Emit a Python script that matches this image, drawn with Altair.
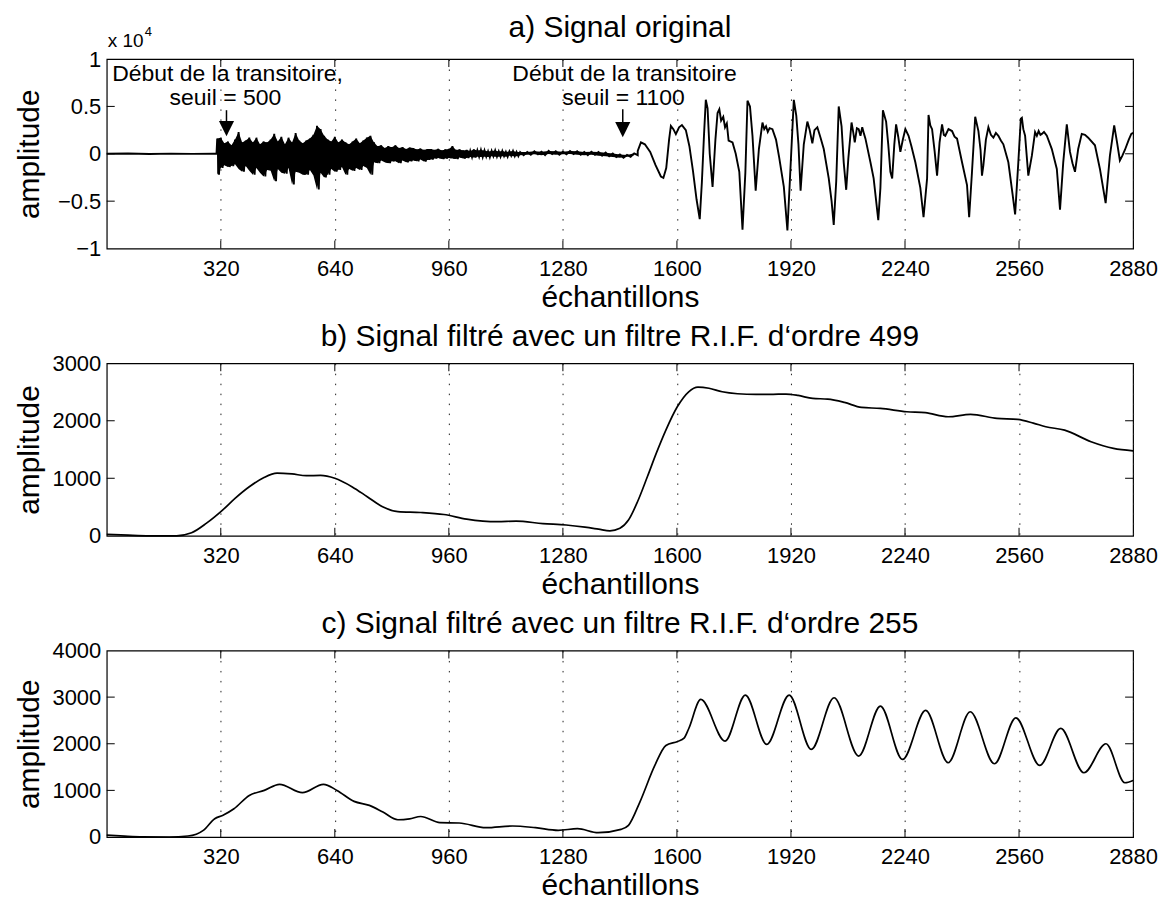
import altair as alt
import pandas as pd

FONT = "Liberation Sans"
W = 1029
H_A, H_B, H_C = 190, 173, 187
TICK_LEN = 8

X_TICKS = [320, 640, 960, 1280, 1600, 1920, 2240, 2560, 2880]
A_TICKS = [-10000, -5000, 0, 5000, 10000]
B_TICKS = [0, 1000, 2000, 3000]
C_TICKS = [0, 1000, 2000, 3000, 4000]

TITLE_A = "a) Signal original"
TITLE_B = "b) Signal filtré avec un filtre R.I.F. d‘ordre 499"
TITLE_C = "c) Signal filtré avec un filtre R.I.F. d‘ordre 255"
X_LABEL = "échantillons"
Y_LABEL = "amplitude"

# ---------------- panel a : original signal (raw amplitude) ----------------
SILENCE_S = [0, 60, 120, 180, 240, 300, 308]
SILENCE_V = [0, 30, -20, 20, -10, 10, 0]

# noisy burst: upper / lower excursion of each 10-sample pair
BURST_START, BURST_STEP = 310, 10
BURST_UP = [1600, 1700, 1100, 1300, 900, 1500, 2300, 1200, 1400, 1700,
            1200, 1700, 1000, 1300, 1200, 1500, 2100, 1300, 1800, 1000,
            1700, 1200, 2200, 1400, 1100, 1400, 1600, 2000, 2960, 2600,
            1900, 1500, 1300, 1800, 1200, 1500, 1200, 1000, 1300, 1600,
            1100, 1400, 1700, 1900, 1200, 800, 900, 600, 800, 700,
            900, 600, 700, 500, 650, 600, 450, 550, 400, 500,
            500, 400, 520, 350, 450, 500, 800, 400, 450, 350,
            400, 300, 450, 350, 400, 350, 250, 300, 350, 250,
            300, 200, 250, 300, 200]
BURST_LO = [-2200, -1500, -1200, -1400, -1300, -1100, -1600, -1900, -1300, -1800,
            -2200, -1500, -2000, -2400, -1700, -1800, -2900, -1600, -2000, -2100,
            -1500, -3250, -1900, -2000, -2200, -2200, -1700, -2300, -3770, -2000,
            -2500, -2200, -1600, -1900, -1700, -1400, -2200, -1600, -1800, -1500,
            -1700, -1300, -1500, -2200, -900, -1000, -700, -900, -1000, -800,
            -800, -1000, -700, -900, -800, -700, -800, -600, -820, -650,
            -600, -500, -450, -550, -500, -450, -500, -550, -400, -500,
            -450, -350, -400, -300, -350, -300, -350, -250, -300, -300,
            -250, -300, -200, -250, -250]

QUIET_START, QUIET_STEP = 1160, 20
QUIET_UP = [180, 200, 260, 220, 300, 260, 220, 300, 260, 200, 220, 180, 120, 20, -80, -120, 50]
QUIET_LO = [-150, -100, -60, -150, -20, -100, -60, -20, -100, -150, -100, -200, -250, -350, -420, -320, -150]

VOICED_S = [
    1490, 1499, 1510, 1525, 1540, 1555, 1562, 1570, 1578, 1583, 1590, 1597, 1606, 1614,
    1625, 1635, 1645, 1655, 1664, 1670, 1676, 1681, 1686, 1692, 1700, 1708, 1714, 1719,
    1724, 1730, 1735, 1740, 1745, 1756, 1765, 1775, 1784, 1792, 1798, 1805, 1812, 1821,
    1830, 1840, 1845, 1850, 1855, 1860, 1868, 1878, 1887, 1900, 1910, 1918, 1928, 1935,
    1941, 1947, 1956, 1966, 1972, 1980, 1986, 1994, 2003, 2012, 2026, 2034, 2040, 2047,
    2054, 2062, 2068, 2075, 2081, 2090, 2095, 2099, 2105, 2110, 2115, 2120, 2125, 2129,
    2143, 2152, 2165, 2171, 2178, 2187, 2193, 2199, 2204, 2210, 2215, 2221, 2227, 2234,
    2241, 2250, 2258, 2269, 2283, 2292, 2302, 2306, 2311, 2316, 2323, 2330, 2337, 2344,
    2349, 2353, 2362, 2372, 2379, 2386, 2400, 2414, 2420, 2428, 2437, 2446, 2452, 2456,
    2460, 2467, 2474, 2481, 2488, 2495, 2502, 2509, 2516, 2530, 2542, 2549, 2558, 2565,
    2568, 2572, 2577, 2586, 2596, 2605, 2610, 2615, 2620, 2624, 2630, 2638, 2652, 2666,
    2675, 2684, 2694, 2703, 2710, 2717, 2726, 2736, 2745, 2754, 2773, 2787, 2803, 2815,
    2827, 2835, 2843, 2850, 2857, 2868, 2875, 2880,
]
VOICED_V = [
    300, 1200, 1000, 200, -1200, -2400, -2550, -1500, 1500, 2950, 2600, 2080, 2800, 3030,
    2500, 800, -1800, -4800, -6900, -3000, 2000, 5700, 4800, 0, -3500, 1500, 4300, 4700,
    3500, 3900, 2800, 3200, 1400, 1200, 0, -1900, -8000, -2000, 5600, 5000, 1900, -3900,
    500, 3300, 2600, 2900, 2300, 2700, 2600, 1500, -400, -3500, -8100, -2000, 5700, 4000,
    1000, -3900, 1000, 3400, 2600, 1100, 2500, 2800, 1700, 500, -2600, -5000, -7500, -2900,
    5000, 2900, -900, -3800, -500, 3300, 2200, 1200, 2700, 2600, 1900, 2800, 2100, 1600,
    -900, -2600, -7000, -3600, 4600, 3400, 1000, -1900, -2600, 1000, 3100, 1800, 200, 1500,
    2600, 1900, 800, -900, -3600, -6700, -2600, 4100, 3000, 2600, 300, -2300, 1200, 3100,
    2000, 1900, 2600, 2400, 1800, 1600, -900, -3300, -6700, -1900, 3900, 2400, 400, -2300,
    -1200, 1500, 2800, 2000, 1700, 2200, 1900, 1400, 1000, -900, -4300, -6400, -900, 3700,
    3800, 2600, 1900, -2300, -200, 2300, 1900, 2400, 2000, 2100, 2300, 1900, 500, -1600,
    -5900, -900, 3100, 200, -1000, -1900, 500, 2100, 2000, 1700, 900, -1600, -5200, -200,
    3000, 1200, -700, -200, 400, 1500, 2100, 2200,
]

ANN_S = [339, 333, 1453, 1450]
ANN_V = [8400, 5900, 8400, 5900]
ANN_T = ["Début de la transitoire,", "seuil = 500", "Début de la transitoire", "seuil = 1100"]

ARROW_S = [336, 1448]
ARROW_TOP = [4600, 4700]
ARROW_HEAD = [2650, 2550]

# ---------------- panel b : FIR order 499 ----------------
B_S = [0, 60, 120, 196, 238, 280, 325, 360, 400, 440, 478, 520, 560, 600, 640, 689, 731,
       774, 817, 881, 946, 1010, 1096, 1149, 1224, 1289, 1342, 1380, 1412, 1440, 1464,
       1490, 1517, 1543, 1569, 1601, 1633, 1659, 1690, 1727, 1770, 1822, 1870, 1906, 1940,
       1981, 2023, 2070, 2118, 2171, 2245, 2297, 2361, 2424, 2498, 2556, 2600, 2635, 2688,
       2762, 2825, 2880]
B_V = [25, 10, 0, 0, 52, 220, 447, 650, 852, 1010, 1090, 1075, 1045, 1050, 1000, 850, 680,
       505, 420, 405, 370, 290, 245, 255, 212, 188, 150, 115, 85, 130, 273,
       600, 1026, 1450, 1838, 2243, 2504, 2585, 2565, 2504, 2470, 2458, 2460, 2464, 2440,
       2388, 2377, 2320, 2232, 2215, 2157, 2140, 2070, 2111, 2042, 2023, 1960, 1896, 1838,
       1635, 1520, 1478]

# ---------------- panel c : FIR order 255 ----------------
C_S = [0, 50, 100, 175, 228, 271, 303, 325, 357, 400, 442, 485, 549, 608, 646, 694, 737,
       775, 817, 850, 881, 935, 989, 1064, 1139, 1203, 1267, 1321, 1379, 1443, 1464, 1496,
       1538, 1569, 1602, 1620, 1633, 1667, 1735, 1792, 1852, 1915, 1977, 2041, 2110, 2171,
       2233, 2298, 2361, 2423, 2491, 2551, 2618, 2677, 2742, 2804, 2857, 2880]
C_V = [40, 20, 5, 0, 21, 143, 392, 463, 607, 892, 1000, 1130, 950, 1130, 1000, 764, 678,
       535, 370, 390, 440, 307, 300, 200, 236, 200, 143, 178, 92, 164, 250, 750,
       1536, 1964, 2050, 2120, 2322, 2950, 2058, 3044, 1985, 3044, 1878, 2986, 1736, 2808,
       1663, 2714, 1593, 2686, 1571, 2557, 1535, 2328, 1378, 2000, 1164, 1214]

# ---------------- build tables ----------------
burst_s = [BURST_START + i * BURST_STEP for i in range(len(BURST_UP))]
quiet_s = [QUIET_START + i * QUIET_STEP for i in range(len(QUIET_UP))]

zig_s, zig_v = [], []
for s0, up, lo, half in ([(s, u, l, BURST_STEP // 2) for s, u, l in zip(burst_s, BURST_UP, BURST_LO)]
                         + [(s, u, l, QUIET_STEP // 2) for s, u, l in zip(quiet_s, QUIET_UP, QUIET_LO)]):
    zig_s += [s0, s0 + half]
    zig_v += [up, lo]

df_a = pd.DataFrame({
    "s": SILENCE_S + zig_s + VOICED_S,
    "v": SILENCE_V + zig_v + VOICED_V,
})
df_band = pd.DataFrame({
    "s": burst_s + quiet_s,
    "v": BURST_UP + QUIET_UP,
    "v2": BURST_LO + QUIET_LO,
})
df_b = pd.DataFrame({"s": B_S, "v": B_V})
df_c = pd.DataFrame({"s": C_S, "v": C_V})
df_ann = pd.DataFrame({"s": ANN_S, "v": ANN_V, "t": ANN_T})
df_arrow = pd.DataFrame({"s": ARROW_S, "v": ARROW_TOP, "v2": ARROW_HEAD})

XS = alt.Scale(domain=[0, 2880], nice=False, zero=False)
XAXIS = alt.Axis(values=X_TICKS, format="d", title=X_LABEL, grid=True,
                 gridDash=[1.5, 8.5], gridColor="#222222", gridWidth=1,
                 labelPadding=10, labelFlush=False, titleX=W / 2, titleY=49,
                 titleAlign="center", titleBaseline="middle")


def y_axis(H, yticks, label_expr):
    kw = dict(values=yticks, title=Y_LABEL, titleX=-77, titleY=H / 2, titleAngle=270,
              titleBaseline="middle", titleAlign="center", labelPadding=6, grid=False,
              labelFlush=False)
    if label_expr:
        kw["labelExpr"] = label_expr
    else:
        kw["format"] = "d"
    return alt.Axis(**kw)


def panel(df, H, domain, yticks, title, title_offset, interp, lw, label_expr=None, extra=()):
    ys = alt.Scale(domain=domain, nice=False, zero=False)
    ya = y_axis(H, yticks, label_expr)
    X = lambda f="s": alt.X(f + ":Q", scale=XS, axis=XAXIS)
    Y = lambda f="v": alt.Y(f + ":Q", scale=ys, axis=ya)
    line = alt.Chart(df).mark_line(color="black", strokeWidth=lw, interpolate=interp).encode(
        x=X(), y=Y())
    xt = pd.DataFrame({"s": X_TICKS[:-1]})
    yt = pd.DataFrame({"v": yticks[1:-1]})
    tb = alt.Chart(xt).mark_rule(color="black", strokeWidth=1).encode(
        x=X(), y=alt.value(H), y2=alt.value(H - TICK_LEN))
    tt = alt.Chart(xt).mark_rule(color="black", strokeWidth=1).encode(
        x=X(), y=alt.value(0), y2=alt.value(TICK_LEN))
    tl = alt.Chart(yt).mark_rule(color="black", strokeWidth=1).encode(
        y=Y(), x=alt.value(0), x2=alt.value(TICK_LEN))
    tr = alt.Chart(yt).mark_rule(color="black", strokeWidth=1).encode(
        y=Y(), x=alt.value(W), x2=alt.value(W - TICK_LEN))
    layers = [line] + [f(X, Y) for f in extra] + [tb, tt, tl, tr]
    return alt.layer(*layers).properties(
        width=W, height=H,
        title=alt.TitleParams(title, fontSize=30, font=FONT, fontWeight="normal",
                              offset=title_offset, baseline="alphabetic", frame="group",
                              anchor="middle", color="black"),
    )


def band_layer(X, Y):
    return alt.Chart(df_band).mark_area(color="black", opacity=1).encode(
        x=X(), y=Y(), y2="v2:Q")


def ann_layer(X, Y):
    return alt.Chart(df_ann).mark_text(font=FONT, fontSize=23, align="center",
                                       baseline="middle", color="black").encode(
        x=X(), y=Y(), text="t:N")


def arrow_shaft(X, Y):
    return alt.Chart(df_arrow).mark_rule(color="black", strokeWidth=1.5).encode(
        x=X(), y=Y(), y2="v2:Q")


def arrow_head(X, Y):
    return alt.Chart(df_arrow).mark_point(shape="M-1,-1L1,-1L0,1Z", filled=True, size=230,
                                          color="black", opacity=1).encode(
        x=X(), y=Y("v2"))


def exp_base(X, Y):
    return alt.Chart(pd.DataFrame({"t": ["x 10"]})).mark_text(
        font=FONT, fontSize=19, align="left", baseline="middle", color="black").encode(
        x=alt.value(1), y=alt.value(-18), text="t:N")


def exp_pow(X, Y):
    return alt.Chart(pd.DataFrame({"t": ["4"]})).mark_text(
        font=FONT, fontSize=13, align="left", baseline="middle", color="black").encode(
        x=alt.value(38), y=alt.value(-27), text="t:N")


pa = panel(df_a, H_A, [-10000, 10000], A_TICKS, TITLE_A, -41, "linear", 1.9,
           label_expr="format(datum.value / 10000, '')",
           extra=(band_layer, ann_layer, arrow_shaft, arrow_head, exp_base, exp_pow))
pb = panel(df_b, H_B, [0, 3000], B_TICKS, TITLE_B, -24, "monotone", 1.7)
pc = panel(df_c, H_C, [0, 4000], C_TICKS, TITLE_C, -23, "monotone", 1.7)

chart = alt.vconcat(pa, pb, pc, spacing=115, bounds="flush").properties(
    padding={"left": 6, "top": 3, "right": 4, "bottom": 0}
).configure(background="white").configure_view(
    stroke="black", strokeWidth=1.2
).configure_axis(
    labelFont=FONT, titleFont=FONT, labelFontSize=22, titleFontSize=30,
    labelColor="black", titleColor="black", titleFontWeight="normal",
    domain=False, ticks=False, tickSize=0,
)

chart.save("out.html", embed_options={"renderer": "svg", "actions": False})
